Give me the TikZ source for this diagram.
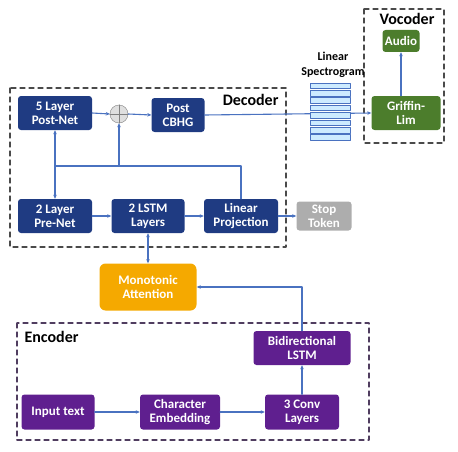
\documentclass[tikz,border=0pt]{standalone}
\usepackage{fontspec}
\setmainfont{Carlito}
\usetikzlibrary{arrows.meta}

\definecolor{decblue}{HTML}{1F3B82}
\definecolor{encpurple}{HTML}{5F1F8F}
\definecolor{vocgreen}{HTML}{4C7D2C}
\definecolor{stopgray}{HTML}{ADADAD}
\definecolor{attorange}{HTML}{F5A900}
\definecolor{linkblue}{HTML}{4A72C0}
\definecolor{frame}{HTML}{4A4A4A}
\definecolor{specfill}{HTML}{CDEBFF}

\tikzset{
  block/.style={rounded corners=3pt, text=white, font=\bfseries\fontsize{13}{14}\selectfont,
    align=center, inner sep=0pt},
  decblock/.style={block, fill=decblue},
  encblock/.style={block, fill=encpurple},
  vocblock/.style={block, fill=vocgreen},
  link/.style={draw=linkblue, line width=1.1pt, -{Stealth[length=4pt,width=3.5pt]}},
  plainlink/.style={draw=linkblue, line width=1.1pt},
  stage/.style={draw=frame, line width=1.3pt, dash pattern=on 5pt off 4pt},
  stagelabel/.style={font=\bfseries\fontsize{16}{17}\selectfont}
}

\begin{document}
\begin{tikzpicture}[x=1pt, y=-1pt, line cap=round, line join=round]
\useasboundingbox (0,0) rectangle (458,452);

% stage frames
\draw[stage] (10,88) rectangle (286,247);
\draw[stage] (364,9) rectangle (444,143);
\draw[stage, draw=frame!70!encpurple] (17,323) rectangle (369,440);
\node[stagelabel, anchor=east] (declabel) at (282,100) {Decoder};
\node[stagelabel] (voclabel) at (407,19) {Vocoder};
\node[stagelabel, anchor=west] (enclabel) at (21,337) {Encoder};

% decoder
\node[decblock, minimum width=74pt, minimum height=34pt] (postnet) at (55,113) {5 Layer\\Post-Net};
\node[circle, draw=gray, fill=gray!25, minimum size=18pt, inner sep=0pt] (plus) at (119,114) {};
\draw[gray] (plus.north) -- (plus.south) (plus.west) -- (plus.east);
\node[decblock, minimum width=53pt, minimum height=34pt] (cbhg) at (178,115) {Post\\CBHG};
\node[decblock, minimum width=74pt, minimum height=34pt] (prenet) at (55,216) {2 Layer\\Pre-Net};
\node[decblock, minimum width=73pt, minimum height=34pt] (lstm) at (148,216) {2 LSTM\\Layers};
\node[decblock, minimum width=74pt, minimum height=34pt] (linproj) at (241,216) {Linear\\Projection};
\node[block, fill=stopgray, minimum width=55pt, minimum height=29pt] (stop) at (324,216) {Stop\\Token};

% attention
\node[block, fill=attorange, rounded corners=6pt, minimum width=97pt, minimum height=47pt] (att) at (148,287) {Monotonic\\Attention};

% encoder
\node[encblock, minimum width=97pt, minimum height=34pt] (bilstm) at (302,348) {Bidirectional\\LSTM};
\node[encblock, minimum width=73pt, minimum height=35pt] (input) at (58,412) {Input text};
\node[encblock, minimum width=80pt, minimum height=35pt] (charemb) at (180,412) {Character\\Embedding};
\node[encblock, minimum width=74pt, minimum height=35pt] (conv) at (302,412) {3 Conv\\Layers};

% vocoder
\node[vocblock, minimum width=69pt, minimum height=34pt] (griffin) at (406,113) {Griffin-\\Lim};
\node[vocblock, minimum width=37pt, minimum height=22pt] (audio) at (401,41) {Audio};

% spectrogram
\node[font=\bfseries\fontsize{12}{15}\selectfont, align=center] (speclabel) at (333,65) {Linear\\Spectrogram};
\draw[link] (cbhg.east) -- (griffin.west);
\foreach \i in {0,...,7}
  \draw[draw=linkblue, fill=specfill, line width=0.8pt] (310,83+\i*7.4) rectangle (350,88.6+\i*7.4);

% decoder links
\coordinate (fbR) at (241,166);
\coordinate (fbM) at (119,166);
\coordinate (fbL) at (55,166);
\draw[link] (postnet.east) -- (plus.west);
\draw[link] (plus.east) -- (cbhg.west);
\draw[link] (prenet.east) -- (lstm.west);
\draw[link] (lstm.east) -- (linproj.west);
\draw[link] (linproj.east) -- (stop.west);
\draw[plainlink] (linproj.north) -- (fbR) -- (fbL);
\draw[link] (fbL) -- (postnet.south);
\draw[link] (fbL) -- (prenet.north);
\draw[link] (fbM) -- (plus.south);
\draw[link, {Stealth[length=4pt,width=3.5pt]}-{Stealth[length=4pt,width=3.5pt]}] (lstm.south) -- (att.north);

% encoder links
\draw[link] (input.east) -- (charemb.west);
\draw[link] (charemb.east) -- (conv.west);
\draw[link] (conv.north) -- (bilstm.south);
\draw[link] (bilstm.north) |- (att.east);

% vocoder link
\draw[link] (griffin.north -| audio.south) -- (audio.south);
\end{tikzpicture}
\end{document}
